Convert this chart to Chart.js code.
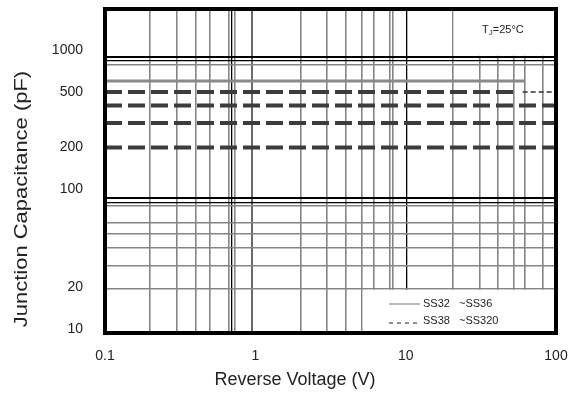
<!DOCTYPE html>
<html>
<head>
<meta charset="utf-8">
<script src="https://cdn.jsdelivr.net/npm/chart.js@4"></script>
<style>
html, body { margin: 0; padding: 0; background: #fff; }
#wrap { width: 577px; height: 406px; }
</style>
</head>
<body>
<div id="wrap"><canvas id="capChart"></canvas></div>
<script>
// SS32~SS36: flat capacitance up to ~62 V
let ss32Volt = [0.1, 62];
let ss32Cap = [600, 600];

// SS38~SS320 levels (pF), drawn across the full voltage range
let ss38Volt = [0.1, 100];
let ss38Caps = [500, 400, 300, 200];
// the 500 pF level: thick dash ends, thin dash starts
let ss38Knee = [56, 60];

// axis labels
let xLabels = [0.1, 1, 10, 100];
let yLabels = [10, 20, 100, 200, 500, 1000];

// grid lines as printed on the sheet
let xGrid = [0.2, 0.3, 0.4, 0.5, 0.67, 0.7, 0.73, 0.95, 2, 3, 4, 5.1, 6.1, 7.8, 8.2, 10.2, 20.5, 31, 41, 52, 62, 82];
let xGridDark = [0.7, 10.2];
let yGrid = [19.4, 28.3, 38, 48, 57.5, 76, 80.5, 86.5, 785, 834, 887];
let yGridDark = [80.5, 86.5, 834, 887];

Chart.defaults.font.family = "'Liberation Sans', Arial, sans-serif";
Chart.defaults.color = '#222';

function pts(xs, y) {
    return xs.map(x => ({x: x, y: y}));
}

let datasets = [
    {
        label: 'SS32 ~SS36',
        data: pts(ss32Volt, ss32Cap[0]),
        borderColor: '#8a8a8a',
        borderWidth: 3
    }
];
ss38Caps.forEach((c, i) => {
    let end = i == 0 ? ss38Knee[0] : ss38Volt[1];
    datasets.push({
        label: 'SS38 ~SS320',
        data: pts([ss38Volt[0], end], c),
        borderColor: '#3c3c3c',
        borderWidth: 4,
        borderDash: [17, 6]
    });
});
// thin tail of the 500 pF level
datasets.push({
    label: 'SS38 ~SS320',
    data: pts([ss38Knee[1], ss38Volt[1]], ss38Caps[0]),
    borderColor: '#333',
    borderWidth: 1.3,
    borderDash: [5, 3]
});

function gridColor(list, dark) {
    return ctx => {
        let v = ctx.tick ? ctx.tick.value : null;
        if (!list.includes(v)) return 'rgba(0,0,0,0)';
        if (dark.includes(v)) return '#000';
        if (v == 0.95) return '#6a6a6a';
        return '#858585';
    };
}
function gridWidth(list, dark) {
    return ctx => {
        let v = ctx.tick ? ctx.tick.value : null;
        if (v == 887 || v == 86.5 || v == 0.95) return 2;
        if (dark.includes(v)) return 1.3;
        return 1.6;
    };
}

// no extra room for the edge labels, the frame sits where the layout padding says
function noEdgePadding(s) {
    s.paddingTop = 0;
    s.paddingBottom = 0;
    s.paddingLeft = 0;
    s.paddingRight = 0;
}

let frame = {
    id: 'frame',
    beforeDatasetsDraw(chart) {
        let {ctx, chartArea: a, scales: {x, y}} = chart;
        ctx.save();
        ctx.fillStyle = '#fff';
        // legend box
        let lx = x.getPixelForValue(5.1) + 1;
        let ly = y.getPixelForValue(19.4) + 1;
        ctx.fillRect(lx, ly, a.right - lx, a.bottom - ly);
        // corner behind the temperature note
        let tx = x.getPixelForValue(20.5) + 1;
        let ty = y.getPixelForValue(887) - 1.5;
        ctx.fillRect(tx, a.top, a.right - tx, ty - a.top);
        ctx.restore();
    },
    afterDraw(chart) {
        let {ctx, chartArea: a} = chart;
        ctx.save();
        ctx.strokeStyle = '#000';
        ctx.lineWidth = 4;
        ctx.strokeRect(a.left, a.top, a.right - a.left, a.bottom - a.top);

        // axis titles
        ctx.fillStyle = '#222';
        ctx.font = "18px 'Liberation Sans', Arial, sans-serif";
        ctx.textAlign = 'center';
        ctx.textBaseline = 'middle';
        ctx.fillText('Reverse Voltage (V)', 295, 380);
        ctx.save();
        ctx.translate(22, 199);
        ctx.rotate(-Math.PI / 2);
        ctx.scale(1.22, 1);
        ctx.fillText('Junction Capacitance (pF)', 0, 0);
        ctx.restore();

        // T_J = 25 °C
        ctx.textAlign = 'left';
        ctx.textBaseline = 'alphabetic';
        ctx.font = "11px 'Liberation Sans', Arial, sans-serif";
        ctx.fillText('T', 482, 33);
        let w = ctx.measureText('T').width;
        ctx.font = "8px 'Liberation Sans', Arial, sans-serif";
        ctx.fillText('J', 482 + w, 35);
        let wj = ctx.measureText('J').width;
        ctx.font = "11px 'Liberation Sans', Arial, sans-serif";
        ctx.fillText('=25°C', 482 + w + wj, 33);

        // legend
        let rows = [
            {ds: chart.data.datasets[0], y: 304, dash: [], color: '#a0a0a0', width: 1.5},
            {ds: chart.data.datasets[chart.data.datasets.length - 1], y: 323, dash: [4, 4], color: '#222', width: 1}
        ];
        rows.forEach(r => {
            ctx.strokeStyle = r.color;
            ctx.lineWidth = r.width;
            ctx.setLineDash(r.dash);
            ctx.beginPath();
            ctx.moveTo(389, r.y);
            ctx.lineTo(420, r.y);
            ctx.stroke();
            ctx.setLineDash([]);
            let parts = r.ds.label.split(' ');
            ctx.fillStyle = '#222';
            ctx.textBaseline = 'middle';
            ctx.fillText(parts[0], 423, r.y - (r.dash.length ? 2.5 : 0.5));
            ctx.fillText(parts[1], 459, r.y - (r.dash.length ? 2.5 : 0.5));
        });
        ctx.restore();
    }
};

let xTicks = [...new Set([...xLabels, ...xGrid])].sort((a, b) => a - b);
let yTicks = [...new Set([...yLabels, ...yGrid])].sort((a, b) => a - b);

let options = {
    maintainAspectRatio: false,
    responsive: true,
    animation: false,
    layout: {
        padding: {top: 9, right: 21, left: 0, bottom: 0}
    },
    elements: {
        point: {radius: 0},
        line: {tension: 0}
    },
    scales: {
        x: {
            type: 'logarithmic',
            min: 0.1,
            max: 100,
            afterBuildTicks: s => { s.ticks = xTicks.map(v => ({value: v})); },
            afterFit: s => { s.height = 73; noEdgePadding(s); },
            border: {display: false},
            grid: {
                drawTicks: false,
                color: gridColor(xGrid, xGridDark),
                lineWidth: gridWidth(xGrid, xGridDark)
            },
            ticks: {
                autoSkip: false,
                maxRotation: 0,
                padding: 15,
                font: {size: 14},
                callback: v => xLabels.includes(v) ? String(v) : ''
            }
        },
        y: {
            type: 'logarithmic',
            min: 9.36,
            max: 1968,
            afterBuildTicks: s => { s.ticks = yTicks.map(v => ({value: v})); },
            afterFit: s => { s.width = 105; noEdgePadding(s); },
            border: {display: false},
            grid: {
                drawTicks: false,
                color: gridColor(yGrid, yGridDark),
                lineWidth: gridWidth(yGrid, yGridDark)
            },
            ticks: {
                autoSkip: false,
                padding: 22,
                font: {size: 14},
                callback: v => yLabels.includes(v) ? String(v) : ''
            }
        }
    },
    plugins: {
        legend: {display: false},
        tooltip: {enabled: false}
    }
};

let capChart = new Chart(document.getElementById('capChart'), {
    type: 'line',
    data: {datasets: datasets},
    options: options,
    plugins: [frame]
});
</script>
</body>
</html>
